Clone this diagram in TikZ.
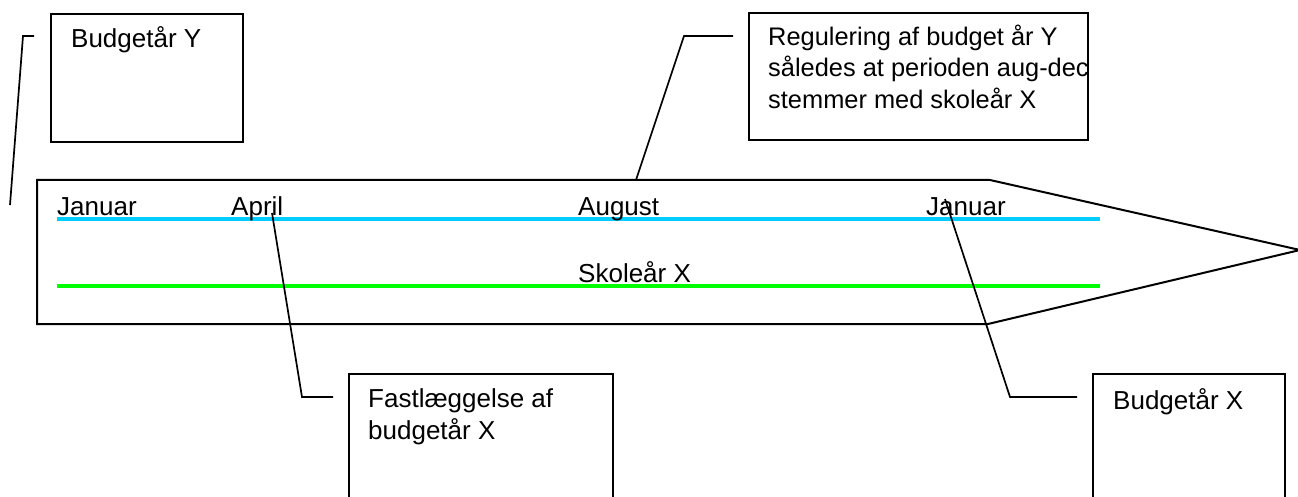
\documentclass[tikz,border=0pt]{standalone}
\usepackage{fontspec}
\setmainfont{Liberation Sans}
\begin{document}
\begin{tikzpicture}[x=1pt,y=-1pt,
  box/.style={draw=black,line width=2pt,fill=white,anchor=north west,inner sep=0pt},
  lbl/.style={anchor=base west,inner sep=0pt,font=\fontsize{26}{31.5}\selectfont,align=left},
  leader/.style={draw=black,line width=1.7pt},
  month/.style={line width=4pt}]
\useasboundingbox (0,0) rectangle (1298,497);
\clip (0,0) rectangle (1298,497);
% timeline arrow
\draw[line width=2pt,line join=miter] (37,180) -- (990,180) -- (1300,250) -- (988,324) -- (37,324) -- cycle;
\coordinate (cyanL) at (57,219);
\coordinate (cyanR) at (1100,219);
\coordinate (greenL) at (57,286);
\coordinate (greenR) at (1100,286);
\draw[month,draw={rgb,255:red,0;green,204;blue,255}] (cyanL) -- (cyanR);
\draw[month,draw={rgb,255:red,0;green,255;blue,0}] (greenL) -- (greenR);
\node[lbl] (jan1) at (57,215) {Januar};
\node[lbl] (apr) at (231,215) {April};
\node[lbl] (aug) at (578,215) {August};
\node[lbl] (jan2) at (926,215) {Januar};
\node[lbl] (skole) at (578,282) {Skoleår X};
% boxes
\node[box,minimum width=192pt,minimum height=128pt] (byY) at (50,13) {};
\node[lbl] (byYt) at (71,48) {Budgetår Y};
\node[box,minimum width=339pt,minimum height=127pt] (reg) at (748,12) {};
\node[lbl,font=\fontsize{25.4}{31.5}\selectfont] (regt) at (768,108.5) {Regulering af budget år Y\\således at perioden aug-dec\\stemmer med skoleår X};
\node[box,minimum width=264pt,minimum height=150pt] (fast) at (348,373) {};
\node[lbl] (fastt) at (368,439) {Fastlæggelse af\\budgetår X};
\node[box,minimum width=192pt,minimum height=150pt] (byX) at (1092,373) {};
\node[lbl] (byXt) at (1113,409) {Budgetår X};
% leaders
\coordinate (lY) at (34,36);
\coordinate (lYc) at (23,36);
\coordinate (lYe) at (10,205);
\draw[leader] (lY) -- (lYc) -- (lYe);
\coordinate (lR) at (733,36);
\coordinate (lRc) at (684,36);
\coordinate (lRe) at (636,180);
\draw[leader] (lR) -- (lRc) -- (lRe);
\coordinate (lA) at (272,213);
\coordinate (lAc) at (302,397);
\coordinate (lAe) at (333,397);
\draw[leader] (lA) -- (lAc) -- (lAe);
\coordinate (lJ) at (945,199);
\coordinate (lJc) at (1010,397);
\coordinate (lJe) at (1077,397);
\draw[leader] (lJ) -- (lJc) -- (lJe);
\end{tikzpicture}
\end{document}
